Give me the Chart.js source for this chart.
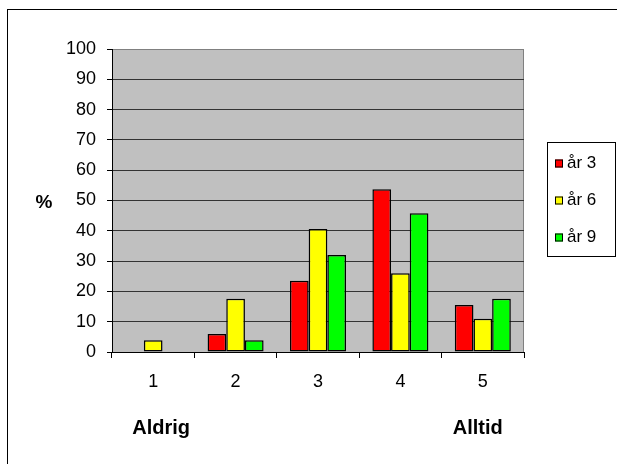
<!DOCTYPE html>
<html>
<head>
<meta charset="utf-8">
<script src="https://cdn.jsdelivr.net/npm/chart.js"></script>
<style>
  body { margin: 0; background: #fff; }
</style>
</head>
<body>
<canvas id="chart" width="617" height="464"></canvas>
<script>
const categories = ['1', '2', '3', '4', '5'];
const seriesNames = ['år 3', 'år 6', 'år 9'];
const year3 = [0, 5.9, 23.5, 53.7, 15.5];
const year6 = [3.9, 17.6, 40.6, 26, 11];
const year9 = [0, 3.9, 32, 45.8, 17.6];
const yTicks = [0, 10, 20, 30, 40, 50, 60, 70, 80, 90, 100];
const scaleEnds = ['Aldrig', 'Alltid'];
const yTitle = '%';

const FONT = '"Liberation Sans", Arial, sans-serif';
const colors = ['#ff0000', '#ffff00', '#00ff00'];

// plot background, outer frame, axis title, end labels and legend box
const decorations = {
    id: 'decorations',
    beforeDraw(chart) {
        const ctx = chart.ctx;
        const a = chart.chartArea;
        ctx.save();
        ctx.fillStyle = '#c0c0c0';
        ctx.fillRect(a.left, a.top, a.right - a.left, a.bottom - a.top);
        ctx.strokeStyle = '#808080';
        ctx.lineWidth = 1;
        ctx.strokeRect(a.left + 0.5, a.top + 0.5, a.right - a.left - 1, a.bottom - a.top);
        ctx.restore();
    },
    afterDraw(chart) {
        const ctx = chart.ctx;
        const x = chart.scales.x;
        ctx.save();
        // outer frame
        ctx.strokeStyle = '#000';
        ctx.lineWidth = 1;
        ctx.strokeRect(7.5, 9.5, 700, 600);

        ctx.fillStyle = '#000';
        ctx.font = 'bold 19px ' + FONT;
        ctx.textAlign = 'center';
        ctx.textBaseline = 'middle';
        ctx.fillText(yTitle, 44, 203);
        ctx.font = 'bold 20px ' + FONT;
        ctx.fillText(scaleEnds[0], x.getPixelForValue(0) + 8, 428);
        ctx.fillText(scaleEnds[1], x.getPixelForValue(categories.length - 1) - 5, 428);

        // legend
        ctx.strokeStyle = '#000';
        ctx.strokeRect(547.5, 142.5, 68, 114);
        ctx.font = '17px ' + FONT;
        ctx.textAlign = 'left';
        chart.data.datasets.forEach((ds, i) => {
            const cy = 163.5 + i * 37;
            ctx.fillStyle = ds.backgroundColor;
            ctx.fillRect(555, cy - 4, 8, 8);
            ctx.strokeStyle = '#000';
            ctx.strokeRect(555.5, cy - 3.5, 7, 7);
            ctx.fillStyle = '#000';
            ctx.fillText(ds.label, 567, cy);
        });
        ctx.restore();
    }
};

new Chart(document.getElementById('chart'), {
    type: 'bar',
    data: {
        labels: categories,
        datasets: [year3, year6, year9].map((d, i) => ({
            label: seriesNames[i],
            data: d,
            backgroundColor: colors[i],
            borderColor: '#000',
            borderWidth: 1.5,
            borderSkipped: false,
            categoryPercentage: 0.68,
            barPercentage: 1.0
        }))
    },
    options: {
        responsive: false,
        animation: false,
        layout: {
            padding: { left: 0, right: 93, top: 49, bottom: 0 }
        },
        plugins: {
            legend: { display: false },
            tooltip: { enabled: false }
        },
        scales: {
            x: {
                afterFit: s => { s.height = 112; },
                grid: {
                    offset: true,
                    drawOnChartArea: false,
                    drawTicks: true,
                    tickLength: 6,
                    tickColor: '#000'
                },
                border: { color: '#000', width: 1 },
                ticks: {
                    color: '#000',
                    padding: 13,
                    font: { family: FONT, size: 18 }
                }
            },
            y: {
                min: 0,
                max: 100,
                afterFit: s => { s.width = 112; },
                afterBuildTicks: s => { s.ticks = yTicks.map(v => ({ value: v })); },
                grid: {
                    color: c => (c.tick && c.tick.value === 100) ? '#808080' : '#333333',
                    tickColor: '#000',
                    tickLength: 5,
                    drawTicks: true
                },
                border: { color: '#000', width: 1 },
                ticks: {
                    color: '#000',
                    padding: 11,
                    font: { family: FONT, size: 18 }
                }
            }
        }
    },
    plugins: [decorations]
});
</script>
</body>
</html>
